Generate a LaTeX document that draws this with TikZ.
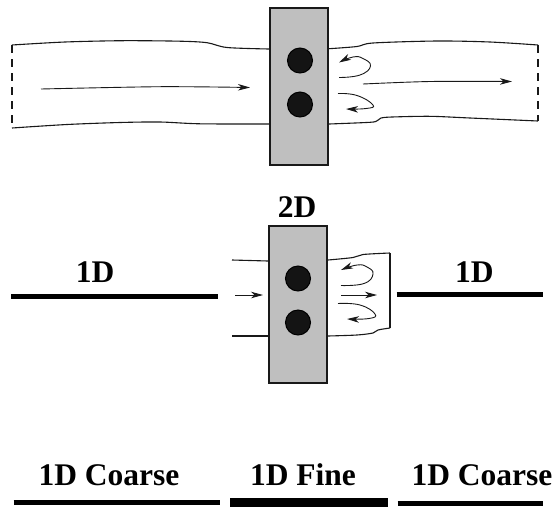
\documentclass[tikz,border=0pt]{standalone}
\usepackage{fontspec}
\setmainfont{Liberation Serif}
\usetikzlibrary{arrows.meta}
\tikzset{
    block/.style={draw=black!90, fill=black!25, line width=2pt, minimum width=58pt, minimum height=157pt, inner sep=0pt},
    hole/.style={circle, draw=black, fill=black!92, line width=1pt, minimum size=25pt, inner sep=0pt},
    wall/.style={line width=1.1pt, black!90},
    flow/.style={-{Stealth[length=12pt, width=6.5pt, inset=3.5pt]}, line width=0.9pt, black!90},
    gridbar/.style={line width=4.8pt},
    finebar/.style={line width=9pt},
    label/.style={anchor=base, font=\bfseries\fontsize{31.5}{33}\selectfont}
}
\begin{document}
\begin{tikzpicture}[x=1pt, y=-1pt]
    \useasboundingbox (0,0) rectangle (557,507);

    % top: full 2D
    \node [block] (topblock) at (299,86.5) {};
    \node [hole] (tophole1) at (300,60.5) {};
    \node [hole] (tophole2) at (300,104.5) {};

    \draw [wall] plot [smooth, tension=0.5] coordinates {(12,45) (65,42) (123,40.7) (180,41.2) (207,42.7) (227,47.5) (269,49)};
    \draw [wall] plot [smooth, tension=0.5] coordinates {(12,128) (67,124.5) (120,122.5) (160,122) (200,123.8) (269,124)};
    \draw [wall, dash pattern=on 8pt off 6pt] (12,45) -- (12,128);
    \draw [flow] plot [smooth] coordinates {(41,89) (160,86.7) (250,87.5)};

    \draw [wall] plot [smooth, tension=0.5] coordinates {(329,48.7) (357,46.5) (373,43) (437,41) (490,42) (538,45)};
    \draw [wall] plot [smooth, tension=0.5] coordinates {(329,124) (370,122.3) (377,120.8) (381,118) (392,117) (430,116.3) (470,118) (538,121)};
    \draw [wall, dash pattern=on 8pt off 6pt] (538,45) -- (538,121);
    \draw [flow] plot [smooth] coordinates {(363,84) (430,81.5) (512,81.5)};
    \draw [flow] plot [smooth, tension=0.8] coordinates {(339,77.5) (360,75) (370.5,66) (363,58.5) (353,57) (339,62.5)};
    \draw [flow] plot [smooth, tension=0.8] coordinates {(338,93.5) (357,95.5) (373,105) (366,108.5) (346,109)};

    % middle: 1D-2D coupling
    \node [label] (midlabel) at (297,217.7) {2D};
    \node [block] (midblock) at (297.5,304) {};
    \node [hole] (midhole1) at (298,278.5) {};
    \node [hole] (midhole2) at (298,322.5) {};

    \draw [wall] (232,260) -- (268,261);
    \draw [wall] (232,336) -- (268,336);
    \draw [flow] (235,295) -- (263,295);

    \draw [wall] plot [smooth, tension=0.5] coordinates {(328,260) (353,257.5) (363,254.5) (390,253)};
    \draw [wall] (390,253) -- (390,328);
    \draw [wall] plot [smooth, tension=0.5] coordinates {(390,328) (378,330) (373,333) (357,335) (328,336)};
    \draw [flow] (341,295) -- (377,295);
    \draw [flow] plot [smooth, tension=0.8] coordinates {(341,285.5) (364,283.5) (373,274) (367,267) (357,265) (341,270)};
    \draw [flow] plot [smooth, tension=0.8] coordinates {(338,303.5) (360,305) (375,314) (369,318.5) (347,319)};

    \coordinate (midleftA) at (11,296.7);
    \coordinate (midleftB) at (218,296.7);
    \coordinate (midrightA) at (396.7,294.7);
    \coordinate (midrightB) at (542.7,294.7);
    \draw [gridbar] (midleftA) -- (midleftB);
    \draw [gridbar] (midrightA) -- (midrightB);
    \node [label] (midleft) at (95,282.7) {1D};
    \node [label] (midright) at (474.3,282.7) {1D};

    % bottom: 1D only
    \coordinate (lowleftA) at (13.5,502.7);
    \coordinate (lowleftB) at (220,502.7);
    \coordinate (lowfineA) at (230,502.5);
    \coordinate (lowfineB) at (388,502.5);
    \coordinate (lowrightA) at (397.7,503.5);
    \coordinate (lowrightB) at (543,503.5);
    \draw [gridbar] (lowleftA) -- (lowleftB);
    \draw [finebar] (lowfineA) -- (lowfineB);
    \draw [gridbar] (lowrightA) -- (lowrightB);
    \node [label] (lowleft) at (109,485.7) {1D Coarse};
    \node [label] (lowfine) at (303,485.7) {1D Fine};
    \node [label] (lowright) at (482,485.7) {1D Coarse};
\end{tikzpicture}
\end{document}
